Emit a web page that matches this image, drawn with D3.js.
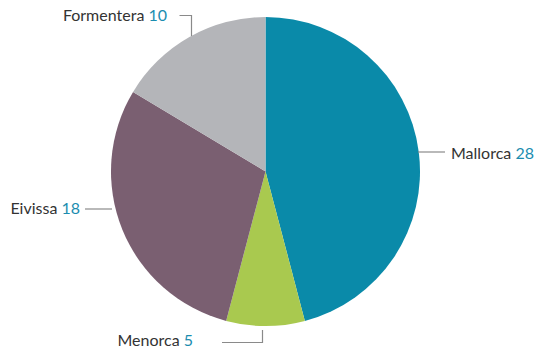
<!DOCTYPE html>
<html>
<head>
<meta charset="utf-8">
<script src="https://cdn.jsdelivr.net/npm/d3@7"></script>
<style>
  html, body { margin: 0; padding: 0; background: #fff; }
  svg { display: block; }
  text { font-family: Lato, "Open Sans", sans-serif; font-size: 16px; }
</style>
</head>
<body>
<svg id="chart" width="537" height="350"></svg>
<script>
const islands = ["Mallorca", "Menorca", "Eivissa", "Formentera"];
const counts = [28, 5, 18, 10];
const colors = ["#0a8aa9", "#a9c94f", "#7a5f71", "#b4b5b9"];

const data = islands.map((name, i) => ({ name, value: counts[i], color: colors[i] }));

const svg = d3.select("#chart");
const cx = 265.5, cy = 171.5, r = 154.5;

const pie = d3.pie().value(d => d.value).sort(null);
const arc = d3.arc().innerRadius(0).outerRadius(r);
const arcs = pie(data);

const g = svg.append("g").attr("transform", `translate(${cx},${cy})`);
g.selectAll("path.slice")
  .data(arcs)
  .join("path")
  .attr("class", "slice")
  .attr("d", arc)
  .attr("fill", d => d.data.color);

// label layout (screen coords)
const layout = {
  "Mallorca":   { x: 451, y: 158.5, anchor: "start", leader: [[418, 152], [445, 152]] },
  "Menorca":    { x: 193, y: 346, anchor: "end",   leader: [[222, 342.5], [262.5, 342.5], [262.5, 330]] },
  "Eivissa":    { x: 80,  y: 214, anchor: "end",   leader: [[85, 209], [112, 209]] },
  "Formentera": { x: 167, y: 21,  anchor: "end",   leader: [[179.5, 15.5], [191.5, 15.5], [191.5, 36]] }
};

const line = d3.line();
arcs.forEach(a => {
  const L = layout[a.data.name];
  svg.append("path")
    .attr("d", line(L.leader))
    .attr("fill", "none")
    .attr("stroke", "#8a8a8a")
    .attr("stroke-width", 1.2);
  const t = svg.append("text")
    .attr("x", L.x).attr("y", L.y)
    .attr("text-anchor", L.anchor)
    .attr("fill", "#333333");
  t.append("tspan").text(a.data.name + " ");
  t.append("tspan").attr("fill", "#1b8db0").text(a.data.value);
});
</script>
</body>
</html>
